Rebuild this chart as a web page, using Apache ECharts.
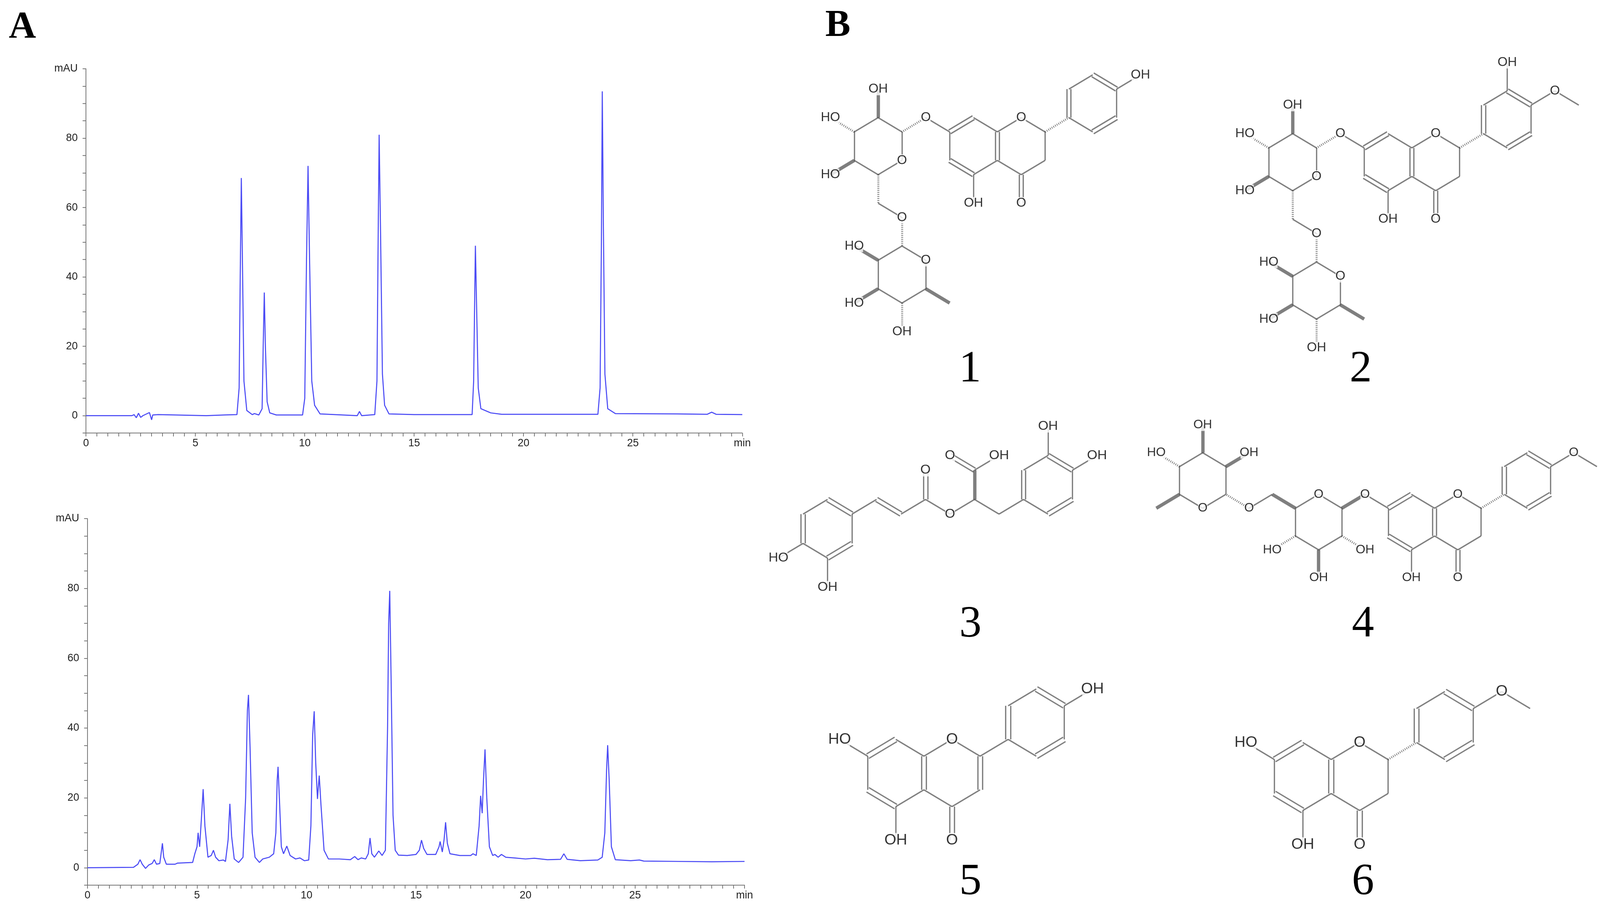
<!DOCTYPE html>
<html>
<head>
<meta charset="utf-8">
<script src="https://cdn.jsdelivr.net/npm/echarts@6/dist/echarts.min.js"></script>
<style>
  html, body { margin: 0; background: #fff; overflow: hidden; }
  #chart { width: 100vw; height: 100vh; }
</style>
</head>
<body>
<div id="chart"></div>
<script>
// chromatogram of the standards (time in min, absorbance in mAU)
const standardTrace = [
  [0, 0], [2.1, 0], [2.2, 0.3], [2.3, -0.6], [2.4, 0.7], [2.5, -0.5], [2.6, 0], [2.9, 0.9], [3.0, -1.2],
  [3.05, 0.2], [3.3, 0.3], [5.5, 0], [6.3, 0.2], [6.9, 0.3], [7.0, 8], [7.05, 40], [7.1, 68.5], [7.15, 45],
  [7.22, 10], [7.35, 1.5], [7.6, 0.3], [7.7, 0.6], [7.9, 0.2], [8.05, 2], [8.1, 20], [8.15, 35.5], [8.2, 20],
  [8.28, 4], [8.4, 0.8], [8.7, 0.2], [9.9, 0.2], [10.0, 5], [10.08, 45], [10.15, 72], [10.22, 45], [10.32, 10],
  [10.45, 3], [10.7, 0.5], [12.4, 0], [12.5, 1.2], [12.6, 0], [13.2, 0.3], [13.3, 10], [13.36, 55], [13.4, 81],
  [13.46, 55], [13.55, 12], [13.65, 3], [13.85, 0.5], [15, 0.3], [17.65, 0.3], [17.72, 10], [17.77, 35],
  [17.8, 49], [17.85, 33], [17.93, 8], [18.05, 2], [18.5, 0.8], [19, 0.4], [23.4, 0.4], [23.5, 8], [23.56, 50],
  [23.6, 93.5], [23.65, 55], [23.72, 12], [23.85, 2], [24.2, 0.6], [27, 0.5], [28.4, 0.4], [28.6, 1], [28.8, 0.4], [30, 0.3]
];

// chromatogram of the sample
const sampleTrace = [
  [0, 0], [2.1, 0.1], [2.3, 1], [2.4, 2.3], [2.5, 1], [2.65, -0.2], [2.8, 0.8], [2.95, 1.2], [3.05, 2.3], [3.15, 1],
  [3.3, 1.2], [3.38, 5], [3.42, 7], [3.48, 3], [3.6, 1], [4.0, 1], [4.1, 1.3], [4.8, 1.5], [4.9, 4], [5.0, 6],
  [5.05, 10], [5.12, 6], [5.2, 14], [5.28, 22.5], [5.36, 12], [5.5, 3], [5.65, 3.5], [5.75, 5], [5.85, 3],
  [6.0, 2], [6.2, 2.2], [6.3, 1.8], [6.42, 8], [6.5, 18.3], [6.58, 9], [6.7, 2.5], [6.9, 1.5], [7.1, 3],
  [7.22, 20], [7.3, 45], [7.35, 49.5], [7.42, 35], [7.52, 10], [7.65, 3], [7.85, 1.5], [8.0, 2.5], [8.3, 3],
  [8.5, 4], [8.6, 10], [8.66, 25], [8.7, 28.9], [8.76, 20], [8.85, 6], [8.95, 4], [9.1, 6.2], [9.25, 3.5],
  [9.5, 2.5], [9.7, 2.8], [9.9, 2], [10.1, 2.2], [10.2, 12], [10.28, 38], [10.35, 44.8], [10.42, 30],
  [10.5, 19.7], [10.58, 26.4], [10.66, 18], [10.8, 5], [11.0, 2.5], [11.5, 2.5], [12.0, 2.3], [12.2, 3.2],
  [12.35, 2.3], [12.5, 2.8], [12.7, 2.5], [12.82, 4], [12.9, 8.5], [12.98, 4], [13.1, 3], [13.3, 4.8],
  [13.45, 3.5], [13.6, 5], [13.7, 40], [13.75, 70], [13.8, 79.3], [13.86, 55], [13.95, 15], [14.05, 5],
  [14.2, 3.6], [14.6, 3.5], [15.0, 3.8], [15.15, 5], [15.25, 7.9], [15.35, 5.5], [15.5, 3.8], [15.9, 3.8],
  [16.05, 6], [16.1, 7.5], [16.2, 4.5], [16.28, 8], [16.35, 13], [16.43, 7], [16.55, 4], [17.0, 3.5],
  [17.5, 3.5], [17.6, 4], [17.75, 3.5], [17.88, 12], [17.95, 20.6], [18.02, 15.6], [18.08, 25],
  [18.15, 33.9], [18.23, 20], [18.35, 6], [18.5, 3.5], [18.6, 3.8], [18.75, 3], [18.9, 3.8], [19.1, 3],
  [19.5, 2.8], [20.0, 2.5], [20.4, 2.7], [21.0, 2.3], [21.6, 2.4], [21.75, 4], [21.9, 2.4], [22.5, 2],
  [23.3, 2.2], [23.5, 3], [23.62, 10], [23.7, 28], [23.75, 35.1], [23.82, 25], [23.92, 6], [24.1, 2.3],
  [24.8, 2], [25.2, 2.2], [25.4, 1.9], [27.0, 1.8], [28.5, 1.7], [30, 1.8]
];

const xTickLabels = [0, 5, 10, 15, 20, 25];
const yTickLabels = [0, 20, 40, 60, 80];

// flavanone skeleton shared by 1, 2, 4, 6 (local coords in bond lengths, y up)
const coreAtoms = [
  [0, 1, ''], [0.866, 0.5, ''], [0.866, -0.5, ''], [0, -1, ''], [-0.866, -0.5, ''], [-0.866, 0.5, ''],
  [1.732, 1, 'O'], [2.598, 0.5, ''], [2.598, -0.5, ''], [1.732, -1, ''], [1.732, -2, 'O'], [0, -2, 'OH'],
  [3.464, 1, ''], [3.464, 2, ''], [4.33, 2.5, ''], [5.196, 2, ''], [5.196, 1, ''], [4.33, 0.5, '']
];
const coreBonds = [
  [0, 1, 1], [1, 2, 2], [2, 3, 1], [3, 4, 2], [4, 5, 1], [5, 0, 2], [1, 6, 1], [6, 7, 1], [7, 8, 1], [8, 9, 1],
  [9, 2, 1], [9, 10, 2], [3, 11, 1], [7, 12, 'h'], [12, 13, 2], [13, 14, 1], [14, 15, 2], [15, 16, 1],
  [16, 17, 2], [17, 12, 1]
];
// 7-O-rutinoside of 1 and 2 (atoms 18..39)
const rutinosideAtoms = [
  [-1.732, 1, 'O'], [-2.598, 0.5, ''], [-3.464, 1, ''], [-4.33, 0.5, ''], [-4.33, -0.5, ''], [-3.464, -1, ''],
  [-2.598, -0.5, 'O'], [-3.464, 2, 'OH'], [-5.196, 1, 'HO'], [-5.196, -1, 'HO'], [-3.464, -2, ''],
  [-2.598, -2.5, 'O'], [-2.598, -3.5, ''], [-1.732, -4, 'O'], [-1.732, -5, ''], [-2.598, -5.5, ''],
  [-3.464, -5, ''], [-3.464, -4, ''], [-4.33, -3.5, 'HO'], [-4.33, -5.5, 'HO'], [-2.598, -6.5, 'OH'], [-0.866, -5.5, '']
];
const rutinosideBonds = [
  [5, 18, 1], [18, 19, 'h'], [19, 20, 1], [20, 21, 1], [21, 22, 1], [22, 23, 1], [23, 24, 1], [24, 19, 1],
  [20, 25, 'w'], [21, 26, 'h'], [22, 27, 'w'], [23, 28, 'h'], [28, 29, 1], [29, 30, 'h'], [30, 31, 1],
  [31, 32, 1], [32, 33, 1], [33, 34, 1], [34, 35, 1], [35, 30, 1], [35, 36, 'w'], [34, 37, 'w'],
  [33, 38, 'h'], [32, 39, 'w']
];
const mol1Extra = { atoms: [[6.062, 2.5, 'OH']], bonds: [[15, 40, 1]] };
const mol2Extra = { atoms: [[6.062, 2.5, 'O'], [6.928, 2, ''], [4.33, 3.5, 'OH']], bonds: [[15, 40, 1], [40, 41, 1], [14, 42, 1]] };
const mol3Atoms = [
  [0, 1, ''], [0.866, 0.5, ''], [0.866, -0.5, ''], [0, -1, ''], [-0.866, -0.5, ''], [-0.866, 0.5, ''],
  [-1.732, -1, 'HO'], [0, -2, 'OH'], [1.732, 1, ''], [2.598, 0.5, ''], [3.464, 1, ''], [3.464, 2, 'O'],
  [4.33, 0.5, 'O'], [5.196, 1, ''], [5.196, 2, ''], [4.33, 2.5, 'O'], [6.062, 2.5, 'OH'], [6.062, 0.5, ''],
  [6.928, 1, ''], [6.928, 2, ''], [7.794, 2.5, ''], [8.66, 2, ''], [8.66, 1, ''], [7.794, 0.5, ''],
  [7.794, 3.5, 'OH'], [9.526, 2.5, 'OH']
];
const mol3Bonds = [
  [0, 1, 2], [1, 2, 1], [2, 3, 2], [3, 4, 1], [4, 5, 2], [5, 0, 1], [4, 6, 1], [3, 7, 1], [1, 8, 1], [8, 9, 2],
  [9, 10, 1], [10, 11, 2], [10, 12, 1], [12, 13, 1], [13, 14, 'w'], [14, 15, 2], [14, 16, 1], [13, 17, 1],
  [17, 18, 1], [18, 19, 2], [19, 20, 1], [20, 21, 2], [21, 22, 1], [22, 23, 2], [23, 18, 1], [20, 24, 1], [21, 25, 1]
];
const mol4Atoms = [
  [6.062, 2.5, 'O'], [6.928, 2, ''], [-1.732, 1, 'O'], [-2.598, 0.5, ''], [-3.464, 1, 'O'], [-4.33, 0.5, ''],
  [-4.33, -0.5, ''], [-3.464, -1, ''], [-2.598, -0.5, ''], [-1.732, -1, 'OH'], [-3.464, -2, 'OH'],
  [-5.196, -1, 'HO'], [-5.196, 1, ''], [-6.062, 0.5, 'O'], [-6.928, 1, ''], [-7.794, 0.5, 'O'], [-8.66, 1, ''],
  [-8.66, 2, ''], [-7.794, 2.5, ''], [-6.928, 2, ''], [-9.526, 0.5, ''], [-9.526, 2.5, 'HO'],
  [-7.794, 3.5, 'OH'], [-6.062, 2.5, 'OH']
];
const mol4Bonds = [
  [15, 18, 1], [18, 19, 1], [5, 20, 1], [20, 21, 'w'], [21, 22, 1], [22, 23, 1], [23, 24, 1], [24, 25, 1],
  [25, 26, 1], [26, 21, 1], [26, 27, 'h'], [25, 28, 'w'], [24, 29, 'h'], [23, 30, 'w'], [30, 31, 1],
  [31, 32, 'h'], [32, 33, 1], [33, 34, 1], [34, 35, 1], [35, 36, 1], [36, 37, 1], [37, 32, 1], [34, 38, 'w'],
  [35, 39, 'h'], [36, 40, 'w'], [37, 41, 'w']
];
const mol5Extra = { atoms: [[-1.732, 1, 'HO'], [6.062, 2.5, 'OH']], bonds: [[5, 18, 1], [15, 19, 1]] };
const mol5Override = [[7, 8, 2], [7, 12, 1]];
const mol6Extra = { atoms: [[-1.732, 1, 'HO'], [6.062, 2.5, 'O'], [6.928, 2, '']], bonds: [[5, 18, 1], [15, 19, 1], [19, 20, 1]] };

const compoundNumbers = ['1', '2', '3', '4', '5', '6'];

// layout is worked out on a 4242 x 2326 sheet and scaled to the real viewport
const W = window.innerWidth;
const H = window.innerHeight;
const sx = W / 4242;
const sy = H / 2326;
const sf = Math.min(sx, sy);

function buildMolecules() {
  const core = (ov) => coreBonds.map((b) => {
    const hit = (ov || []).find((o) => o[0] === b[0] && o[1] === b[1]);
    return hit ? hit : b;
  });
  return [
    { atoms: coreAtoms.concat(rutinosideAtoms, mol1Extra.atoms), bonds: core().concat(rutinosideBonds, mol1Extra.bonds), ox: 2581, oy: 374, L: 73 },
    { atoms: coreAtoms.concat(rutinosideAtoms, mol2Extra.atoms), bonds: core().concat(rutinosideBonds, mol2Extra.bonds), ox: 3680, oy: 415, L: 73 },
    { atoms: mol3Atoms, bonds: mol3Bonds, ox: 2194, oy: 1353, L: 75 },
    { atoms: coreAtoms.concat(mol4Atoms), bonds: core().concat(mol4Bonds), ox: 3742, oy: 1336, L: 71 },
    { atoms: coreAtoms.concat(mol5Extra.atoms), bonds: core(mol5Override).concat(mol5Extra.bonds), ox: 2375, oy: 1978, L: 86 },
    { atoms: coreAtoms.concat(mol6Extra.atoms), bonds: core().concat(mol6Extra.bonds), ox: 3454, oy: 1987, L: 87 }
  ];
}

const numberPos = [[2567, 949], [3603, 949], [2568, 1602], [3609, 1602], [2568, 2261], [3609, 2261]];

function structureSeries() {
  const bondData = [];
  const labelData = [];
  buildMolecules().forEach((m) => {
    const P = (a) => [m.ox + a[0] * m.L, m.oy - a[1] * m.L];
    const fs = Math.round(m.L * 0.47 * sf);
    const bw = Math.max(2, 3.4 * sf);
    m.bonds.forEach(([i, j, t]) => {
      const p = P(m.atoms[i]);
      const q = P(m.atoms[j]);
      if (t === 2) {
        const dx = q[0] - p[0], dy = q[1] - p[1];
        const len = Math.hypot(dx, dy);
        const nx = (-dy / len) * m.L * 0.075, ny = (dx / len) * m.L * 0.075;
        [1, -1].forEach((s) => bondData.push({
          coords: [[p[0] + s * nx, p[1] + s * ny], [q[0] + s * nx, q[1] + s * ny]],
          lineStyle: { width: bw, color: '#000' },
        }));
      } else {
        bondData.push({
          coords: [p, q],
          lineStyle: t === 'h'
            ? { width: bw * 1.6, color: '#000', type: [2, 3] }
            : { width: t === 'w' ? bw * 2.6 : bw, color: '#000' },
        });
      }
    });
    m.atoms.forEach((a) => {
      if (!a[2]) return;
      labelData.push({
        value: P(a),
        symbolSize: [fs * 0.62 * a[2].length + 4, fs * 0.95],
        label: { formatter: a[2], fontSize: fs },
      });
    });
  });
  return [
    {
      type: 'lines', coordinateSystem: 'cartesian2d', xAxisIndex: 2, yAxisIndex: 2,
      polyline: false, silent: true, z: 3, data: bondData,
    },
    {
      type: 'scatter', xAxisIndex: 2, yAxisIndex: 2, symbol: 'rect', z: 4, silent: true,
      itemStyle: { color: '#fff' },
      label: { show: true, position: 'inside', color: '#000', fontFamily: 'Liberation Sans Narrow, Liberation Sans, sans-serif' },
      data: labelData,
    },
  ];
}

const chromAxisFont = { fontFamily: 'Liberation Sans Narrow, Liberation Sans, sans-serif', fontSize: Math.round(28 * sf), color: '#222' };

function chromX(idx) {
  return {
    type: 'value', gridIndex: idx, min: 0, max: 30, interval: 0.5,
    axisLine: { onZero: false, lineStyle: { color: '#777', width: 2 } },
    axisTick: { length: 9 * sf, lineStyle: { color: '#777', width: 2 } },
    axisLabel: {
      ...chromAxisFont, margin: 14 * sf, showMaxLabel: true,
      formatter: (v) => (v === 30 ? 'min' : xTickLabels.includes(v) ? String(v) : ''),
    },
    splitLine: { show: false },
  };
}
function chromY(idx) {
  return {
    type: 'value', gridIndex: idx, min: -5, max: 100, interval: 5,
    axisLine: { lineStyle: { color: '#777', width: 2 } },
    axisTick: { length: 9 * sf, lineStyle: { color: '#777', width: 2 } },
    axisLabel: {
      ...chromAxisFont, margin: 22 * sf,
      formatter: (v) => (v === 100 ? 'mAU' : yTickLabels.includes(v) ? String(v) : ''),
    },
    splitLine: { show: false },
  };
}

const chart = echarts.init(document.getElementById('chart'), null, { renderer: 'canvas' });
chart.setOption({
  backgroundColor: '#fff',
  animation: false,
  title: [
    { text: 'A', left: 18 * sx, top: 18 * sy, textStyle: { fontFamily: 'Liberation Serif', fontWeight: 'bold', fontSize: 100 * sf, color: '#000' } },
    { text: 'B', left: 2183 * sx, top: 14 * sy, textStyle: { fontFamily: 'Liberation Serif', fontWeight: 'bold', fontSize: 100 * sf, color: '#000' } },
    ...compoundNumbers.map((n, k) => ({
      text: n, left: (numberPos[k][0] - 30) * sx, top: (numberPos[k][1] - 65) * sy,
      textStyle: { fontFamily: 'Liberation Serif', fontWeight: 'normal', fontSize: 118 * sf, color: '#000' },
    })),
  ],
  grid: [
    { left: 228 * sx, top: 176 * sy, width: 1740 * sx, height: 932 * sy },
    { left: 232 * sx, top: 1327 * sy, width: 1742 * sx, height: 938 * sy },
    { left: 0, top: 0, right: 0, bottom: 0 },
  ],
  xAxis: [chromX(0), chromX(1), { type: 'value', gridIndex: 2, min: 0, max: 4242, show: false }],
  yAxis: [chromY(0), chromY(1), { type: 'value', gridIndex: 2, min: 0, max: 2326, inverse: true, show: false }],
  series: [
    {
      type: 'line', xAxisIndex: 0, yAxisIndex: 0, showSymbol: false, data: standardTrace,
      lineStyle: { color: '#4b4bf5', width: Math.max(1.8, 2.8 * sf) },
    },
    {
      type: 'line', xAxisIndex: 1, yAxisIndex: 1, showSymbol: false, data: sampleTrace,
      lineStyle: { color: '#4b4bf5', width: Math.max(1.8, 2.8 * sf) },
    },
    ...structureSeries(),
  ],
});
window.addEventListener('resize', () => chart.resize());
</script>
</body>
</html>
